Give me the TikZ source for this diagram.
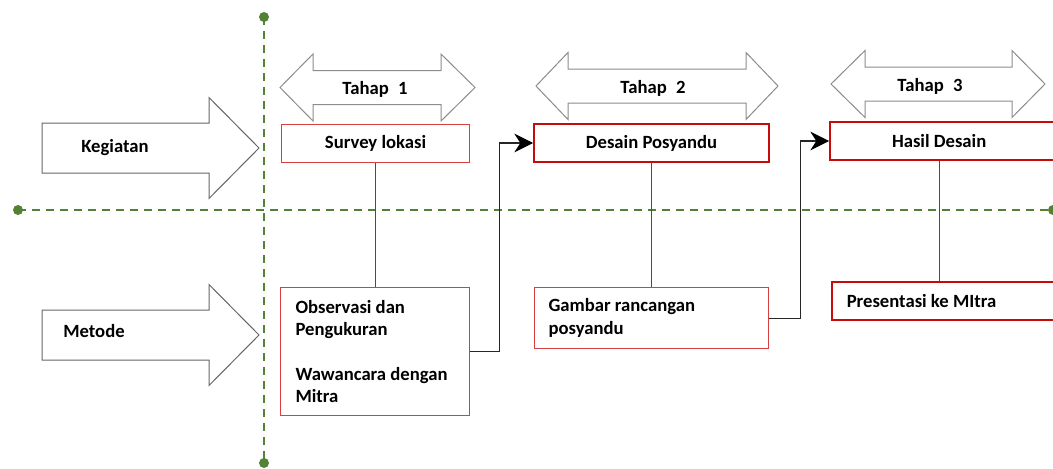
\documentclass[tikz,border=0pt]{standalone}
\usepackage{fontspec}
\setmainfont{Carlito}
\usetikzlibrary{arrows.meta}
\definecolor{hijau}{RGB}{84,130,53}
\definecolor{merahtua}{RGB}{200,10,10}
\definecolor{merahmuda}{RGB}{214,64,64}
\tikzstyle{garisputus}=[
        draw=hijau,
        line width=1.5pt,
        dash pattern=on 6pt off 4.5pt
]
\tikzstyle{titik}=[fill=hijau]
\tikzstyle{panahblok}=[draw=black!60, fill=white, line width=0.75pt]
\tikzstyle{tahap}=[draw=black!45, fill=white, line width=0.75pt]
\tikzstyle{kotaktipis}=[
        draw=merahmuda,
        line width=0.8pt,
        fill=white,
        inner sep=0pt,
        anchor=north west
]
\tikzstyle{kotaktebal}=[
        draw=merahtua,
        line width=1.5pt,
        fill=white,
        inner sep=0pt,
        anchor=north west
]
\tikzstyle{garis}=[draw=black!70, line width=0.8pt]
\tikzstyle{panah}=[draw=black!85, line width=0.8pt, -{Stealth[length=14pt, width=14pt, inset=4.5pt, color=black]}]

\begin{document}
\begin{tikzpicture}[x=0.75pt, y=-0.75pt, font=\fontsize{14}{16.7}\selectfont\bfseries]
                    \clip (0,0) rectangle (1053,468);

                    \coordinate (atas) at (264,17);
                    \coordinate (bawah) at (264,463);
                    \coordinate (kiri) at (18,210);
                    \coordinate (kanan) at (1053,210);

                    \draw[garisputus] (atas) -- (bawah);
                    \draw[garisputus] (kiri) -- (kanan);

                    \foreach \t in {atas,bawah,kiri,kanan} {
                        \fill[titik] (\t) circle (5);
                    }

                    \foreach \yc/\nama/\teks/\xt/\yt in {148/kegiatan/Kegiatan/115/148, 335/metode/Metode/94/331} {
                        \draw[panahblok] (42,\yc-25) -- (209,\yc-25) -- (209,\yc-50.5) -- (259,\yc)
                            -- (209,\yc+50.5) -- (209,\yc+25) -- (42,\yc+25) -- cycle;
                        \node (\nama) at (\xt,\yt) {\teks};
                    }

                    \foreach \xa/\xb/\xc/\xd/\yc/\xt/\n in {280/313/441/475/87.5/375/1, 536/568/746/778/86/653/2, 831/865/1012/1045/84/930/3} {
                        \draw[tahap] (\xa,\yc) -- (\xb,\yc-33.5) -- (\xb,\yc-17) -- (\xc,\yc-17) -- (\xc,\yc-33.5)
                            -- (\xd,\yc) -- (\xc,\yc+33.5) -- (\xc,\yc+17) -- (\xb,\yc+17) -- (\xb,\yc+33.5) -- cycle;
                        \node (tahap\n) at (\xt,\yc+2) {Tahap\enspace\n};
                    }

                    \node[kotaktipis, minimum width=141pt, minimum height=28.5pt] (survey) at (281,124) {Survey lokasi};
                    \node[kotaktebal, minimum width=176.25pt, minimum height=28.5pt] (desain) at (533,123) {Desain Posyandu};
                    \node[kotaktebal, minimum height=28.5pt, inner xsep=46.5pt] (hasil) at (829,121)
                        {\parbox{80.25pt}{Hasil Desain}};

                    \node[kotaktipis, minimum height=96pt, inner xsep=11.25pt] (observasi) at (280,287)
                        {\parbox{119.25pt}{Observasi dan\\Pengukuran\\[16.7pt]Wawancara dengan\\Mitra}};
                    \node[kotaktipis, minimum height=45.75pt, inner xsep=10.5pt] (gambar) at (534,287)
                        {\parbox{154.5pt}{Gambar rancangan\\posyandu}};
                    \node[kotaktebal, line width=1.2pt, minimum height=28.5pt, inner xsep=11.25pt] (presentasi) at (831,281)
                        {\parbox{150.75pt}{Presentasi ke MItra}};

                    \coordinate (hasilbawah) at ([xshift=82.9pt]hasil.south west);

                    \draw[garis] (survey.south) -- (survey.south |- observasi.north);
                    \draw[garis] (desain.south) -- (desain.south |- gambar.north);
                    \draw[garis] (hasilbawah) -- (hasilbawah |- presentasi.north);

                    \draw[panah] (observasi.east) -- ++(29,0) |- (desain.west);
                    \draw[panah] (gambar.east) -- ++(31,0) |- (hasil.west);

                \end{tikzpicture}
\end{document}
